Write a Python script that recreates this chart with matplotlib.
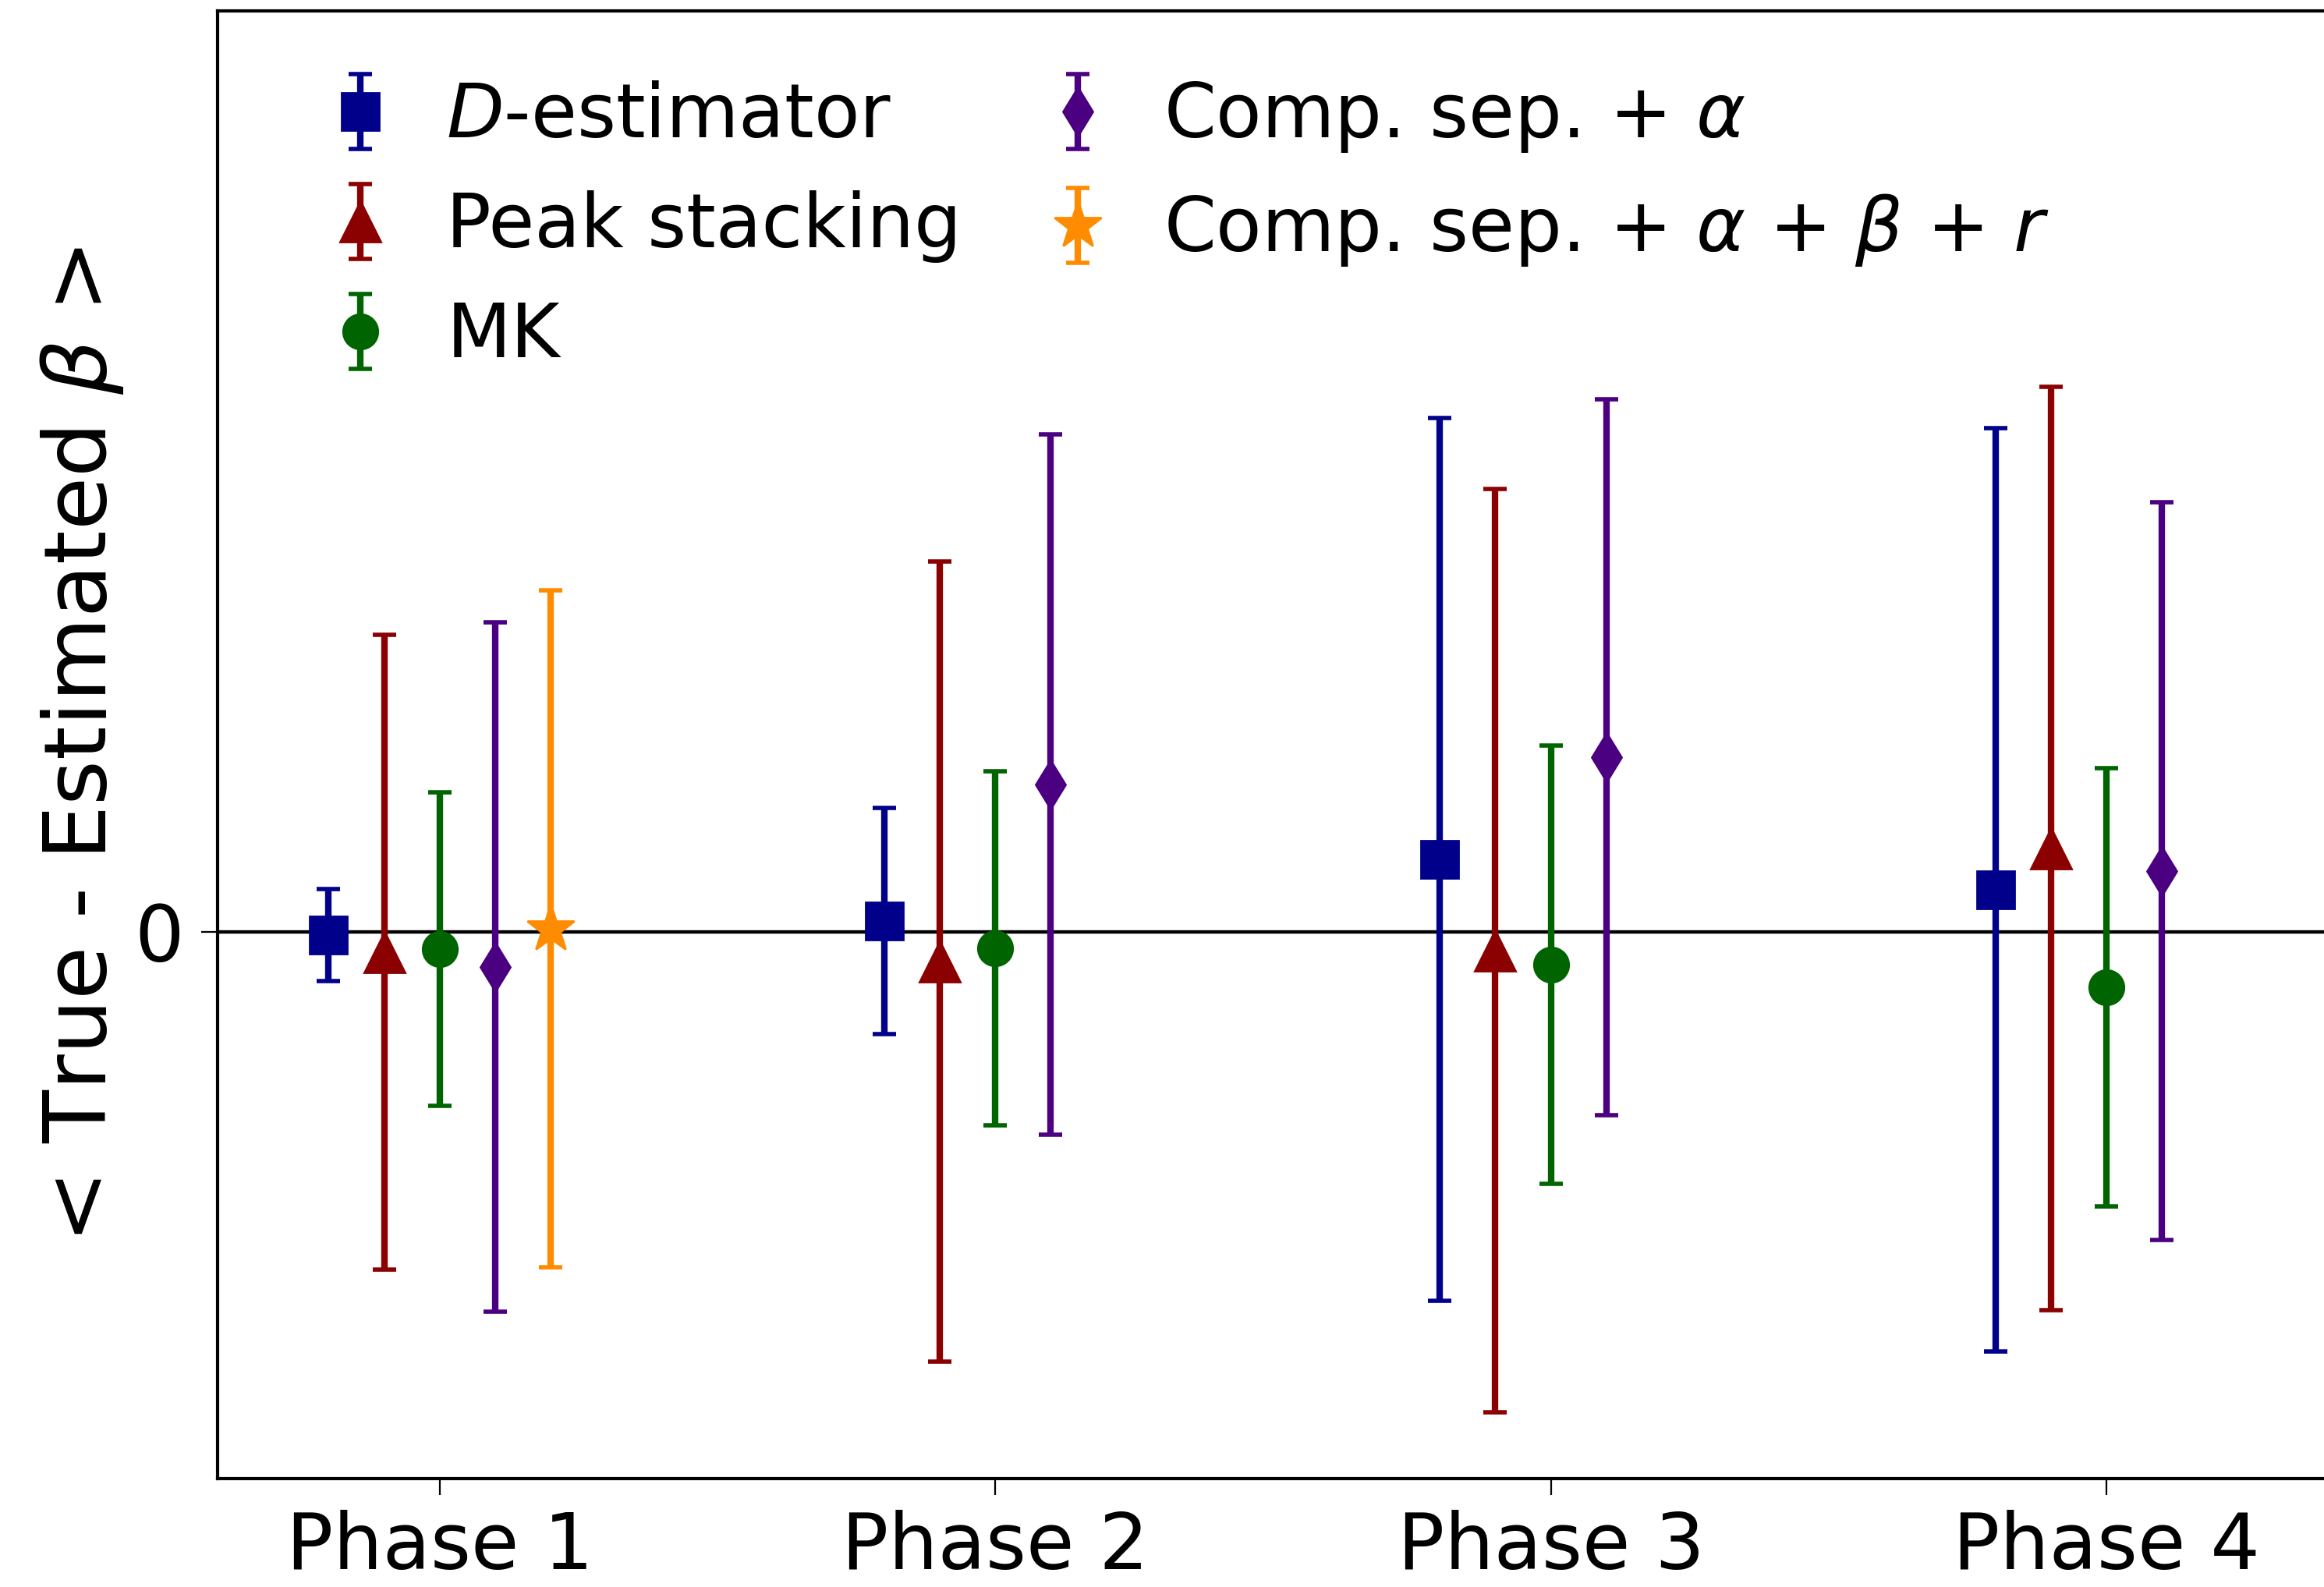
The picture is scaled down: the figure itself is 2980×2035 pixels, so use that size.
import numpy as np
import matplotlib.pyplot as plt

# values (arbitrary units, only the 0 level is labelled)
phases = ['Phase 1', 'Phase 2', 'Phase 3', 'Phase 4']

d_est = [-0.004, 0.014, 0.093, 0.054]
d_est_err = [0.059, 0.145, 0.566, 0.592]

peak = [-0.026, -0.038, -0.024, 0.107]
peak_err = [0.407, 0.513, 0.592, 0.592]

mk = [-0.022, -0.021, -0.042, -0.071]
mk_err = [0.201, 0.227, 0.281, 0.281]

cs_a = [-0.045, 0.189, 0.224, 0.078]
cs_a_err = [0.442, 0.449, 0.459, 0.473]

cs_abr = [0.004]
cs_abr_err = [0.434]

fs_tick = 36
fs_leg = 34.5

fig = plt.figure(figsize=(14.9, 10.175), dpi=200)
ax = fig.add_axes([0.0936, 0.0683, 0.9084, 0.9248])

x = np.arange(1, len(phases) + 1)
common = dict(linestyle='none', elinewidth=3, capsize=5.5, capthick=2)

ax.errorbar(x - 0.2, d_est, yerr=d_est_err, fmt='s', color='darkblue', ms=17,
            label='$D$-estimator', **common)
ax.errorbar(x - 0.1, peak, yerr=peak_err, fmt='^', color='darkred', ms=19,
            label='Peak stacking', **common)
ax.errorbar(x, mk, yerr=mk_err, fmt='o', color='darkgreen', ms=16,
            label='MK', **common)
ax.errorbar(x + 0.1, cs_a, yerr=cs_a_err, fmt='d', color='indigo', ms=16,
            label=r'Comp. sep. + $\alpha$', **common)
ax.errorbar(x[:len(cs_abr)] + 0.2, cs_abr, yerr=cs_abr_err, fmt='*', color='darkorange', ms=23,
            label=r'Comp. sep. + $\alpha$ + $\beta$ + $r$', **common)

ax.axhline(0, color='black', lw=1.6, zorder=1)

ax.set_xlim(0.6, 4.4)
ax.set_ylim(-0.701, 1.181)
ax.set_xticks(x)
ax.set_xticklabels(phases)
ax.set_yticks([0])
ax.tick_params(axis='x', labelsize=fs_tick, length=7.5, width=0.8, pad=7)
ax.tick_params(axis='y', labelsize=fs_tick, length=7.5, width=0.8, pad=8)
for s in ax.spines.values():
    s.set_linewidth(1.5)

ax.set_ylabel(r'< True - Estimated $\beta$ >', fontsize=40, labelpad=4)

ax.legend(loc='upper left', bbox_to_anchor=(0.05, 0.953), ncol=2, frameon=False,
          fontsize=fs_leg, handlelength=1.0, handletextpad=0.65, columnspacing=1.05,
          labelspacing=0.5, borderaxespad=0, borderpad=0)

fig.savefig('out.png', dpi=200)
